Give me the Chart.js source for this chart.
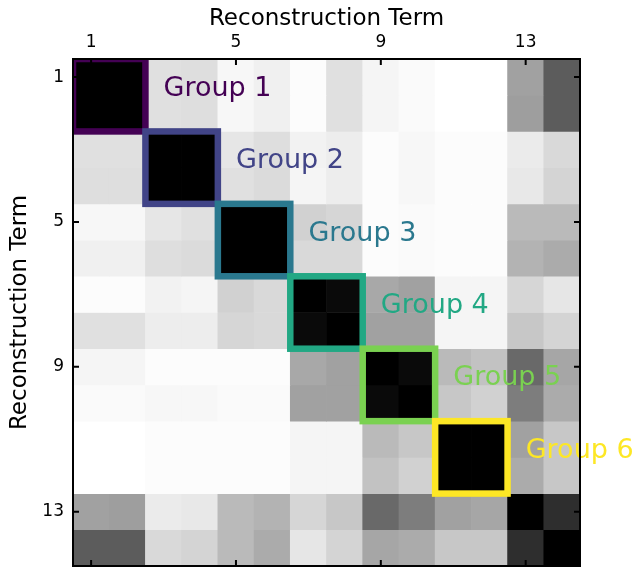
<!DOCTYPE html>
<html>
<head>
<meta charset="utf-8">
<script src="https://cdn.jsdelivr.net/npm/chart.js@4.4.1/dist/chart.umd.min.js"></script>
<style>
    html, body { margin: 0; padding: 0; background: #fff; }
    #wrap { width: 637px; height: 568px; }
</style>
</head>
<body>
<div id="wrap"><canvas id="chart" width="637" height="568"></canvas></div>
<script>
// reconstruction terms on both axes
const terms = ['1', '2', '3', '4', '5', '6', '7', '8', '9', '10', '11', '12', '13', '14'];
const tickTerms = [1, 5, 9, 13];

// similarity per row (1 = black, 0 = white)
const row01 = [1.00, 1.00, 0.12, 0.13, 0.03, 0.06, 0.01, 0.12, 0.04, 0.02, 0.00, 0.00, 0.37, 0.64];
const row02 = [1.00, 1.00, 0.12, 0.13, 0.03, 0.06, 0.01, 0.12, 0.04, 0.02, 0.00, 0.00, 0.38, 0.64];
const row03 = [0.12, 0.12, 1.00, 1.00, 0.10, 0.13, 0.05, 0.07, 0.01, 0.03, 0.01, 0.01, 0.08, 0.15];
const row04 = [0.13, 0.13, 1.00, 1.00, 0.12, 0.14, 0.04, 0.07, 0.01, 0.03, 0.01, 0.01, 0.09, 0.17];
const row05 = [0.03, 0.03, 0.10, 0.12, 1.00, 1.00, 0.18, 0.16, 0.01, 0.02, 0.01, 0.01, 0.27, 0.27];
const row06 = [0.06, 0.06, 0.13, 0.14, 1.00, 1.00, 0.15, 0.15, 0.01, 0.02, 0.01, 0.01, 0.30, 0.33];
const row07 = [0.01, 0.01, 0.05, 0.04, 0.18, 0.15, 1.00, 0.96, 0.34, 0.37, 0.04, 0.04, 0.16, 0.10];
const row08 = [0.12, 0.12, 0.07, 0.07, 0.16, 0.15, 0.96, 1.00, 0.37, 0.37, 0.04, 0.04, 0.22, 0.17];
const row09 = [0.04, 0.04, 0.01, 0.01, 0.01, 0.01, 0.34, 0.37, 1.00, 0.96, 0.27, 0.24, 0.59, 0.35];
const row10 = [0.02, 0.02, 0.03, 0.03, 0.02, 0.02, 0.37, 0.37, 0.96, 1.00, 0.22, 0.18, 0.51, 0.33];
const row11 = [0.00, 0.00, 0.01, 0.01, 0.01, 0.01, 0.04, 0.04, 0.27, 0.22, 1.00, 1.00, 0.37, 0.22];
const row12 = [0.00, 0.00, 0.01, 0.01, 0.01, 0.01, 0.04, 0.04, 0.24, 0.18, 1.00, 1.00, 0.33, 0.22];
const row13 = [0.37, 0.38, 0.08, 0.09, 0.27, 0.30, 0.16, 0.22, 0.59, 0.51, 0.37, 0.35, 1.00, 0.82];
const row14 = [0.64, 0.64, 0.15, 0.17, 0.27, 0.33, 0.10, 0.17, 0.35, 0.33, 0.22, 0.22, 0.82, 1.00];
const rows = [row01, row02, row03, row04, row05, row06, row07, row08, row09, row10, row11, row12, row13, row14];

// groups of terms
const groupNames = ['Group 1', 'Group 2', 'Group 3', 'Group 4', 'Group 5', 'Group 6'];
const groupFirst = [1, 3, 5, 7, 9, 11];
const groupLast = [2, 4, 6, 8, 10, 12];
const groupColors = ['#440154', '#414487', '#2a788e', '#22a884', '#7ad151', '#fde725'];

const FONT = '"DejaVu Sans", sans-serif';

function grayFor(v) {
    const g = Math.round(255 * (1 - v));
    return `rgb(${g},${g},${g})`;
}

const datasets = rows.map((vals, i) => ({
    data: vals.map(() => [i + 0.5, i + 1.5]),
    backgroundColor: vals.map(grayFor),
    borderWidth: 0,
    barPercentage: 1,
    categoryPercentage: 1
}));

const overlay = {
    id: 'overlay',
    afterDatasetsDraw(chart) {
        const { ctx, chartArea: a, scales: { x, y } } = chart;
        const half = (x.getPixelForValue(1) - x.getPixelForValue(0)) / 2;

        // group boxes, clipped to the plot
        ctx.save();
        ctx.beginPath();
        ctx.rect(a.left, a.top, a.right - a.left, a.bottom - a.top);
        ctx.clip();
        groupFirst.forEach((f, k) => {
            const l = groupLast[k];
            const x0 = x.getPixelForValue(f - 1) - half;
            const x1 = x.getPixelForValue(l - 1) + half;
            const y0 = y.getPixelForValue(f - 0.5);
            const y1 = y.getPixelForValue(l + 0.5);
            ctx.strokeStyle = groupColors[k];
            ctx.lineWidth = 6.5;
            ctx.strokeRect(x0, y0, x1 - x0, y1 - y0);
        });
        ctx.restore();

        // group labels
        ctx.save();
        ctx.font = '27px ' + FONT;
        ctx.textAlign = 'left';
        ctx.textBaseline = 'alphabetic';
        groupFirst.forEach((f, k) => {
            const l = groupLast[k];
            const tx = x.getPixelForValue(l);
            const ty = (y.getPixelForValue(f - 0.5) + y.getPixelForValue(l + 0.5)) / 2 + 0.5;
            ctx.fillStyle = groupColors[k];
            ctx.fillText(groupNames[k], tx, ty);
        });
        ctx.restore();

        // frame and inward ticks
        ctx.save();
        ctx.strokeStyle = '#000';
        ctx.lineWidth = 2;
        ctx.strokeRect(a.left, a.top, a.right - a.left, a.bottom - a.top);
        ctx.beginPath();
        tickTerms.forEach(v => {
            const px = x.getPixelForValue(v - 1);
            ctx.moveTo(px, a.top); ctx.lineTo(px, a.top + 6);
            ctx.moveTo(px, a.bottom); ctx.lineTo(px, a.bottom - 6);
            const py = y.getPixelForValue(v);
            ctx.moveTo(a.left, py); ctx.lineTo(a.left + 6, py);
            ctx.moveTo(a.right, py); ctx.lineTo(a.right - 6, py);
        });
        ctx.stroke();
        ctx.restore();
    }
};

new Chart(document.getElementById('chart'), {
    type: 'bar',
    data: { labels: terms, datasets: datasets },
    options: {
        responsive: false,
        animation: false,
        devicePixelRatio: 1,
        layout: { padding: { left: 0, right: 57, top: 0, bottom: 2 } },
        plugins: { legend: { display: false }, tooltip: { enabled: false } },
        scales: {
            x: {
                type: 'category',
                position: 'top',
                stacked: true,
                offset: true,
                grid: { display: false, drawTicks: false },
                border: { display: false },
                ticks: {
                    autoSkip: false, maxRotation: 0, padding: 6, color: '#000',
                    font: { size: 17, family: FONT },
                    callback: (v, i) => tickTerms.includes(i + 1) ? terms[i] : ''
                },
                title: {
                    display: true, text: 'Reconstruction Term', color: '#000',
                    font: { size: 23, family: FONT }, padding: { top: 5, bottom: 0 }
                },
                afterFit: s => { s.height = 59; s.paddingLeft = 0; s.paddingRight = 0; }
            },
            y: {
                type: 'linear',
                min: 0.5, max: 14.5,
                reverse: true,
                grid: { display: false, drawTicks: false },
                border: { display: false },
                afterBuildTicks: s => { s.ticks = tickTerms.map(v => ({ value: v })); },
                ticks: { padding: 9, color: '#000', font: { size: 17, family: FONT } },
                title: {
                    display: true, text: 'Reconstruction Term', color: '#000',
                    font: { size: 23, family: FONT }, padding: { top: 6, bottom: 0 }
                },
                afterFit: s => { s.width = 73; s.paddingTop = 0; s.paddingBottom = 0; }
            }
        }
    },
    plugins: [overlay]
});
</script>
</body>
</html>
